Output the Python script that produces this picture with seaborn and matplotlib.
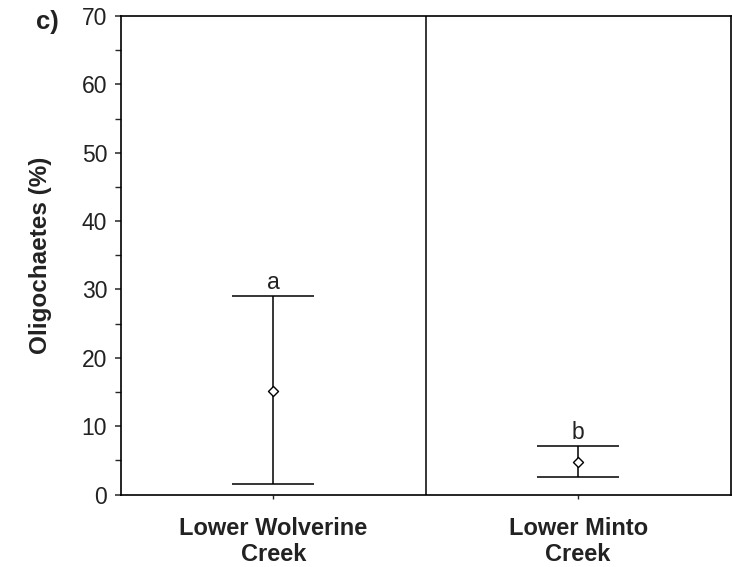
import matplotlib
matplotlib.use("Agg")
import matplotlib.pyplot as plt
import seaborn as sns
import pandas as pd
import numpy as np

sites = ["Lower Wolverine\nCreek", "Lower Minto\nCreek"]
means = [15.2, 4.8]
lower = [1.5, 2.5]
upper = [29.1, 7.1]
letters = ["a", "b"]

sns.set_theme(style="white")
plt.rcParams['font.family'] = ['Liberation Sans', 'DejaVu Sans']

df = pd.DataFrame({"site": sites, "mean": means, "lower": lower, "upper": upper})

fig = plt.figure(figsize=(7.32, 5.67), dpi=100)
ax = fig.add_axes([121/732, 1 - 494.5/567, (730.5 - 121)/732, (494.5 - 16)/567])

pos = np.arange(len(sites))
yerr = np.array([df["mean"] - df["lower"], df["upper"] - df["mean"]])
ax.errorbar(pos, df["mean"], yerr=yerr, fmt="none", ecolor="black",
            elinewidth=1.1, capsize=29.5, capthick=1.1, zorder=2)
sns.scatterplot(data=df, x="site", y="mean", marker="D", s=26,
                facecolor="white", edgecolor="black", linewidth=1.0,
                ax=ax, zorder=3, legend=False)

for i, (u, lt) in enumerate(zip(df["upper"], letters)):
    ax.text(i, u + 0.3, lt, ha="center", va="bottom", fontsize=16.5, color="#222222")

ax.axvline(0.5, color="black", linewidth=1.1)

ax.set_xlim(-0.5, 1.5)
ax.set_ylim(0, 70)
ax.set_yticks(np.arange(0, 71, 10))
ax.set_yticks(np.arange(5, 70, 10), minor=True)
ax.set_xticks(pos)
ax.set_xticklabels(sites, fontsize=17, fontweight="bold", color="#222222")
ax.tick_params(axis="y", which="major", direction="out", length=4, width=1.1,
               labelsize=16.5, labelcolor="#222222", left=True, pad=6)
ax.tick_params(axis="y", which="minor", direction="out", length=4, width=1.0, left=True)
ax.tick_params(axis="x", direction="out", length=3, width=1.0, bottom=True, pad=13)
for s in ax.spines.values():
    s.set_visible(True)
    s.set_color("black")
    s.set_linewidth(1.2)

ax.set_xlabel("")
ax.set_ylabel("Oligochaetes (%)", fontsize=17.5, fontweight="bold", color="#222222", labelpad=21)
fig.text(36/732, 1 - 22/567, "c)", fontsize=18.5, fontweight="bold", color="#222222",
         ha="left", va="center")

fig.savefig("out.png", dpi=100)
